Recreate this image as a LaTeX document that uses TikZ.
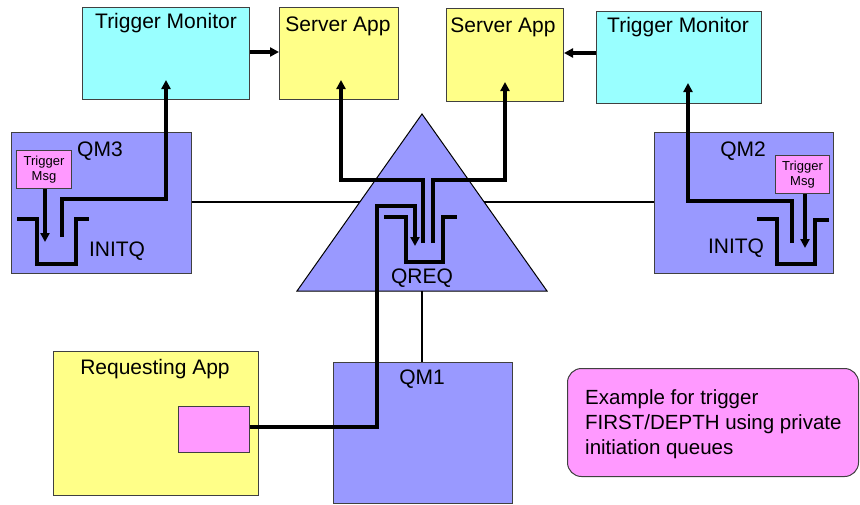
\documentclass[tikz,border=0pt]{standalone}
\usepackage{fontspec}
\setmainfont{Liberation Sans}
\usetikzlibrary{arrows.meta}
\definecolor{tmcyan}{HTML}{99FFFF}
\definecolor{appyel}{HTML}{FFFF88}
\definecolor{qmblue}{HTML}{9999FF}
\definecolor{msgpink}{HTML}{FF99FF}
\definecolor{edgegray}{HTML}{404040}
\tikzset{
  boxstyle/.style={draw=edgegray, line width=1pt, inner sep=0pt, anchor=north west},
  lbl/.style={inner sep=0pt, font=\fontsize{21}{25}\selectfont},
  smalllbl/.style={inner sep=0pt, align=center, font=\fontsize{13}{14.5}\selectfont},
  flow/.style={line width=3.2pt, line join=miter},
  flowarrow/.style={line width=3.2pt, -{Triangle[length=9pt,width=9pt]}},
  thinline/.style={line width=1.4pt},
}
\begin{document}
\begin{tikzpicture}[x=1pt,y=-1pt]
\useasboundingbox (0,0) rectangle (860,504);
% thin connection between QM3 and QM2
\node[boxstyle, fill=qmblue, minimum width=180pt, minimum height=141pt] (qm3) at (11,132) {};
\node[boxstyle, fill=qmblue, minimum width=179pt, minimum height=141pt] (qm2) at (654,132) {};
\draw[thinline] (qm3.east |- 0,202) -- (qm2.west |- 0,202);
% triangle
\coordinate (apex) at (422,114);
\coordinate (bl) at (297,291);
\coordinate (br) at (547,291);
\draw[fill=qmblue, draw=black, line width=1pt] (apex) -- (bl) -- (br) -- cycle;
% top boxes
\node[boxstyle, fill=tmcyan, minimum width=167pt, minimum height=92pt] (tmL) at (82,7) {};
\node[boxstyle, fill=appyel, minimum width=119pt, minimum height=92pt] (saL) at (279,7) {};
\node[boxstyle, fill=appyel, minimum width=117pt, minimum height=93pt] (saR) at (446,8) {};
\node[boxstyle, fill=tmcyan, minimum width=165pt, minimum height=92pt] (tmR) at (596,11) {};
\node[lbl] (tmLl) at (166,23) {Trigger Monitor};
\node[lbl] (saLl) at (338,26) {Server App};
\node[lbl] (saRl) at (503,27) {Server App};
\node[lbl] (tmRl) at (678,27) {Trigger Monitor};
% bottom boxes
\node[boxstyle, fill=appyel, minimum width=205pt, minimum height=144pt] (req) at (53,351) {};
\node[boxstyle, fill=msgpink, minimum width=71pt, minimum height=46pt] (reqmsg) at (178,406) {};
\node[boxstyle, fill=qmblue, minimum width=179pt, minimum height=141pt] (qm1) at (333,362) {};
\node[lbl] (reql) at (155,369) {Requesting App};
\node[lbl] (qm1l) at (422,379) {QM1};
\draw[thinline] (422,291) -- (qm1.north -| 422,0);
% note
\node[draw=edgegray, line width=1pt, fill=msgpink, rounded corners=14pt, minimum width=291pt, minimum height=108pt, anchor=north west, inner sep=0pt] (note) at (567,368) {};
\node[lbl, anchor=north west, align=left, font=\fontsize{20.5}{25}\selectfont] (notel) at (585,389) {Example for trigger\\FIRST/DEPTH using private\\initiation queues};
% QM labels and trigger messages
\node[lbl] (qm3l) at (100,151) {QM3};
\node[lbl] (qm2l) at (743,151) {QM2};
\node[lbl] (initq3) at (117,251) {INITQ};
\node[lbl] (initq2) at (736,248) {INITQ};
\node[lbl] (qreql) at (422,278) {QREQ};
\node[boxstyle, fill=msgpink, minimum width=55pt, minimum height=38pt] (tm3) at (16,150) {};
\node[smalllbl] at (tm3.center) {Trigger\\Msg};
\node[boxstyle, fill=msgpink, minimum width=54pt, minimum height=38pt] (tm2) at (775,155) {};
\node[smalllbl] at (tm2.center) {Trigger\\Msg};
% queues
\draw[flow] (17,219) -- (37,219) -- (37,264) -- (76,264) -- (76,219) -- (89,219);
\draw[flow] (757,219) -- (777,219) -- (777,264) -- (815,264) -- (815,220) -- (829,220);
\draw[flow] (384,217) -- (406,217) -- (406,262) -- (443,262) -- (443,217) -- (457,217);
% arrows
\draw[flowarrow] (tm3.south -| 45,0) -- (45,242);
\draw[flowarrow] (tm2.south -| 805,0) -- (805,248);
\draw[flowarrow] (tmL.east |- 0,52) -- (saL.west |- 0,52);
\draw[flowarrow] (tmR.west |- 0,53) -- (saR.east |- 0,53);
\draw[flowarrow] (62,237) -- (62,199) -- (166,199) -- (166,80);
\draw[flowarrow] (792,243) -- (792,201) -- (688,201) -- (688,83);
\draw[flowarrow] (423,243) -- (423,180) -- (341,180) -- (341,80);
\draw[flowarrow] (433,243) -- (433,180) -- (505,180) -- (505,82);
\draw[flowarrow] (reqmsg.east |- 0,427) -- (377,427) -- (377,206) -- (415,206) -- (415,246);
\end{tikzpicture}
\end{document}
